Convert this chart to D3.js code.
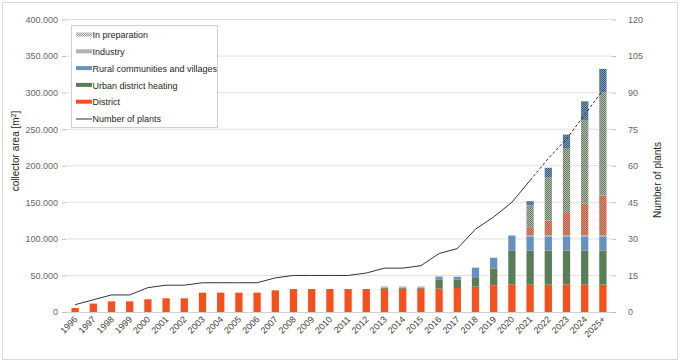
<!DOCTYPE html>
<html><head><meta charset="utf-8">
<script src="https://cdn.jsdelivr.net/npm/d3@7"></script>
<style>
body{margin:0;background:#fff;}
svg{display:block;font-family:"Liberation Sans",Arial,sans-serif;}
</style></head>
<body><svg id="c" width="680" height="364"></svg>
<script>
const years = ["1996","1997","1998","1999","2000","2001","2002","2003","2004","2005","2006","2007","2008","2009","2010","2011","2012","2013","2014","2015","2016","2017","2018","2019","2020","2021","2022","2023","2024","2025+"];
const district = [5500,11500,14600,14600,17400,18700,18700,26500,26500,26500,26500,29600,31400,31400,31400,31400,31400,31800,31800,31800,32000,32800,34600,36000,37800,37500,37500,37500,37500,37500];
const urban    = [0,0,0,0,0,0,0,0,0,0,0,0,0,0,0,0,0,1600,1600,1600,12600,11400,11900,23200,45700,46500,46500,46500,46500,46500];
const rural    = [0,0,0,0,0,0,0,0,0,0,0,0,0,0,0,0,0,0,0,0,3200,4100,14100,15000,20700,19500,19500,19500,19500,19500];
const industry = [0,0,0,0,0,0,0,0,0,0,0,0,0,0,0,0,0,1600,1600,1600,1000,0,0,0,1000,1500,1500,1500,1500,1500];
const prepDistrict = [0,0,0,0,0,0,0,0,0,0,0,0,0,0,0,0,0,0,0,0,0,0,0,0,0,11000,20200,31600,43000,54400];
const prepUrban    = [0,0,0,0,0,0,0,0,0,0,0,0,0,0,0,0,0,0,0,0,0,0,0,0,0,29700,59200,86600,113800,141100];
const prepRural    = [0,0,0,0,0,0,0,0,0,0,0,0,0,0,0,0,0,0,0,0,0,0,0,0,0,5900,12800,19500,26400,32000];
const plants = [3,5,7,7,10,11,11,12,12,12,12,14,15,15,15,15,16,18,18,19,24,26,34,39,45,54,63,71,81,91];
const leftTicks = [0,50000,100000,150000,200000,250000,300000,350000,400000];
const rightTicks = [0,15,30,45,60,75,90,105,120];
const legendLabels = ["In preparation","Industry","Rural communities and villages","Urban district heating","District","Number of plants"];

const svg = d3.select("#c");
const L = 66, R = 612, T = 19.5, B = 312;
const x = d3.scaleBand().domain(years).range([L, R]).paddingInner(0.6).paddingOuter(0.3);
const y = d3.scaleLinear().domain([0, 400000]).range([B, T]);
const y2 = d3.scaleLinear().domain([0, 120]).range([B, T]);

// outer frame
svg.append("rect").attr("x",2.5).attr("y",2.5).attr("width",675).attr("height",357)
  .attr("fill","none").attr("stroke","#d9d9d9");

// patterns
const defs = svg.append("defs");
function checker(id, fg, bg){
  const p = defs.append("pattern").attr("id",id).attr("width",2).attr("height",2)
    .attr("patternUnits","userSpaceOnUse");
  p.append("rect").attr("width",2).attr("height",2).attr("fill",bg);
  p.append("rect").attr("width",1).attr("height",1).attr("fill",fg);
  p.append("rect").attr("x",1).attr("y",1).attr("width",1).attr("height",1).attr("fill",fg);
}
checker("pD","#d8532b","#b89a90");
checker("pU","#5f7a5c","#b7bfb3");
checker("pR","#3a5f82","#7a97b3");
checker("pG","#9a9a9a","#e6e6e6");

// gridlines
svg.append("g").selectAll("line").data(leftTicks.slice(1)).join("line")
  .attr("x1",L).attr("x2",R).attr("y1",d=>y(d)).attr("y2",d=>y(d))
  .attr("stroke","#e0e0e0").attr("stroke-width",1);

// left axis
const ax = svg.append("g").attr("transform",`translate(${L},0)`)
  .call(d3.axisLeft(y).tickValues(leftTicks).tickSize(4).tickPadding(4)
    .tickFormat(d=> d===0 ? "0" : d3.format(",")(d).replace(/,/g,".")));
ax.select(".domain").remove();
ax.selectAll("line").attr("stroke","#bfbfbf");
ax.selectAll("text").attr("fill","#666").attr("font-size",9).attr("font-family","Liberation Sans, Arial");

const ax2 = svg.append("g").attr("transform",`translate(${R},0)`)
  .call(d3.axisRight(y2).tickValues(rightTicks).tickSize(4).tickPadding(12));
ax2.select(".domain").remove();
ax2.selectAll("line").attr("stroke","#bfbfbf");
ax2.selectAll("text").attr("fill","#666").attr("font-size",9).attr("font-family","Liberation Sans, Arial");

// bars
const series = [
  {vals:district, fill:"#f4511e"},
  {vals:urban, fill:"#5a7d58"},
  {vals:rural, fill:"#6792bd"},
  {vals:industry, fill:"#b3b3b3"},
  {vals:prepDistrict, fill:"url(#pD)"},
  {vals:prepUrban, fill:"url(#pU)"},
  {vals:prepRural, fill:"url(#pR)"}
];
const stackData = years.map((yr,i)=>{const o={year:yr}; series.forEach((s,k)=>o["s"+k]=s.vals[i]); return o;});
const stacked = d3.stack().keys(series.map((s,k)=>"s"+k))(stackData);
svg.append("g").selectAll("g").data(stacked).join("g")
  .attr("fill",(d,k)=>series[k].fill)
  .selectAll("rect").data(d=>d.filter(e=>e[1]-e[0]>0)).join("rect")
  .attr("x",d=>x(d.data.year)).attr("width",x.bandwidth())
  .attr("y",d=>y(d[1])).attr("height",d=>y(d[0])-y(d[1]));

// axis baseline
svg.append("line").attr("x1",L).attr("x2",R).attr("y1",B+0.5).attr("y2",B+0.5).attr("stroke","#d0d0d0");

// line
const cx = d=>x(d)+x.bandwidth()/2;
const pts = years.map((yr,i)=>[cx(yr), y2(plants[i])]);
const solidN = years.indexOf("2021")+1;
const line = d3.line();
svg.append("path").attr("d",line(pts.slice(0,solidN))).attr("fill","none").attr("stroke","#333").attr("stroke-width",1);
svg.append("path").attr("d",line(pts.slice(solidN-1))).attr("fill","none").attr("stroke","#333").attr("stroke-width",1).attr("stroke-dasharray","3,2");

// x labels
svg.append("g").selectAll("text").data(years).join("text")
  .attr("transform",d=>`translate(${cx(d)+3},${B+8}) rotate(-45)`)
  .attr("text-anchor","end").attr("font-size",9).attr("fill","#404040").text(d=>d);

// axis titles
svg.append("text").attr("transform","translate(19,151) rotate(-90)").attr("text-anchor","middle")
  .attr("font-size",10).attr("fill","#262626").html("collector area [m<tspan baseline-shift='super' font-size='7'>2</tspan>]");
svg.append("text").attr("transform","translate(661,180) rotate(-90)").attr("text-anchor","middle")
  .attr("font-size",10).attr("fill","#262626").text("Number of plants");

// legend
const lg = svg.append("g");
lg.append("rect").attr("x",71.5).attr("y",25.5).attr("width",146).attr("height",102)
  .attr("fill","#fff").attr("stroke","#d0d0d0");
const swatches = ["url(#pG)","#b3b3b3","#6792bd","#5a7d58","#f4511e",null];
legendLabels.forEach((t,i)=>{
  const yy = 35 + i*16.8;
  if (swatches[i]) lg.append("rect").attr("x",76).attr("y",yy-2.5).attr("width",16).attr("height",4).attr("fill",swatches[i]);
  else lg.append("line").attr("x1",76).attr("x2",92).attr("y1",yy).attr("y2",yy).attr("stroke","#333");
  lg.append("text").attr("x",92.5).attr("y",yy+3.2).attr("font-size",9).attr("fill","#262626").text(t);
});
</script></body></html>
